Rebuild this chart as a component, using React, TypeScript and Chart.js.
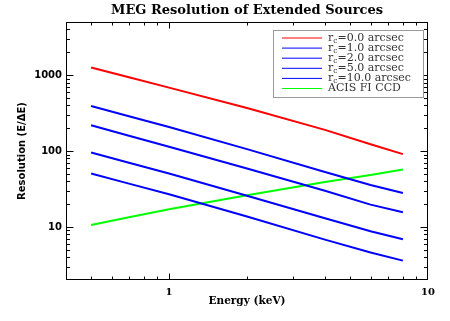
import React, { useEffect, useRef } from 'react';
import { Chart, registerables } from 'chart.js';

Chart.register(...registerables);

// ---- data ----
const energies = [0.5, 0.7, 1, 2, 4, 6, 8];
const rc0 = [1262, 936, 685, 369, 190, 123, 91];
const rc1 = [392, 287, 207, 106, 53, 35.7, 28];
const rc2 = [219, 159, 114, 58.9, 30, 19.7, 15.6];
const rc5 = [95.5, 70, 50.7, 25.8, 13.0, 8.8, 6.9];
const rc10 = [50.6, 37.2, 26.9, 13.7, 6.8, 4.6, 3.6];
const acisFi = [10.6, 13.4, 17.1, 26.1, 39, 48.4, 57];

const seriesValues = [rc0, rc1, rc2, rc5, rc10, acisFi];
const seriesLabels = [
  'r_c=0.0 arcsec',
  'r_c=1.0 arcsec',
  'r_c=2.0 arcsec',
  'r_c=5.0 arcsec',
  'r_c=10.0 arcsec',
  'ACIS FI CCD',
];
const seriesColors = ['#ff0000', '#0000ff', '#0000ff', '#0000ff', '#0000ff', '#00ff00'];

const xTickValues = [1, 10];
const yTickValues = [10, 100, 1000];
const xRange = [0.4, 10];
const yRange = [2, 5000];

const chartTitle = 'MEG Resolution of Extended Sources';
const xTitle = 'Energy (keV)';
const yTitle = 'Resolution (E/\u0394E)';

function logTickValues(min: number, max: number) {
  const out: { v: number; major: boolean }[] = [];
  const e0 = Math.floor(Math.log10(min));
  const e1 = Math.ceil(Math.log10(max));
  for (let e = e0; e <= e1; e++) {
    for (let m = 1; m <= 9; m++) {
      const v = m * Math.pow(10, e);
      if (v > min * 1.0001 && v < max * 0.9999) out.push({ v, major: m === 1 });
    }
  }
  return out;
}

const framePlugin = {
  id: 'frameTicks',
  afterDatasetsDraw(chart: any) {
    const { ctx, chartArea: a, scales } = chart;
    const L = Math.round(a.left) + 0.5;
    const R = Math.round(a.right) - 0.5;
    const T = Math.round(a.top) + 0.5;
    const B = Math.round(a.bottom) - 0.5;
    ctx.save();
    ctx.strokeStyle = '#000';
    ctx.lineWidth = 1;
    ctx.strokeRect(L, T, R - L, B - T);
    ctx.beginPath();
    for (const t of logTickValues(scales.x.min, scales.x.max)) {
      const px = Math.round(scales.x.getPixelForValue(t.v)) + 0.5;
      const len = t.major ? 6 : 3;
      ctx.moveTo(px, B);
      ctx.lineTo(px, B - len);
      ctx.moveTo(px, T);
      ctx.lineTo(px, T + len);
    }
    for (const t of logTickValues(scales.y.min, scales.y.max)) {
      const py = Math.round(scales.y.getPixelForValue(t.v)) + 0.5;
      const len = t.major ? 7 : 3.5;
      ctx.moveTo(L, py);
      ctx.lineTo(L + len, py);
      ctx.moveTo(R, py);
      ctx.lineTo(R - len, py);
    }
    ctx.stroke();
    ctx.restore();
  },
};

const legendPlugin = {
  id: 'customLegend',
  afterDraw(chart: any) {
    const { ctx } = chart;
    const bx = 273.5;
    const by = 30.5;
    const bw = 150;
    const bh = 67;
    ctx.save();
    ctx.fillStyle = '#fff';
    ctx.fillRect(bx, by, bw, bh);
    ctx.strokeStyle = '#9a9a9a';
    ctx.lineWidth = 1;
    ctx.strokeRect(bx, by, bw, bh);
    const fontMain = '11px "DejaVu Serif"';
    const fontSub = '7.5px "DejaVu Serif"';
    chart.data.datasets.forEach((ds: any, i: number) => {
      const y = 38 + i * 10.1;
      ctx.strokeStyle = ds.borderColor;
      ctx.lineWidth = 1;
      ctx.beginPath();
      ctx.moveTo(282, y);
      ctx.lineTo(322, y);
      ctx.stroke();
      ctx.fillStyle = '#333';
      ctx.textBaseline = 'middle';
      ctx.textAlign = 'left';
      const label: string = ds.label;
      let x = 328;
      const idx = label.indexOf('_');
      if (idx >= 0) {
        const pre = label.slice(0, idx);
        const sub = label.slice(idx + 1, idx + 2);
        const post = label.slice(idx + 2);
        ctx.font = fontMain;
        ctx.fillText(pre, x, y);
        x += ctx.measureText(pre).width;
        ctx.font = fontSub;
        ctx.fillText(sub, x, y + 3);
        x += ctx.measureText(sub).width;
        ctx.font = fontMain;
        ctx.fillText(post, x, y);
      } else {
        ctx.font = fontMain;
        ctx.fillText(label, x, y);
      }
    });
    ctx.restore();
  },
};

export default function App() {
  const ref = useRef<HTMLCanvasElement>(null);
  useEffect(() => {
    if (!ref.current) return;
    const chart = new Chart(ref.current, {
      type: 'line',
      data: {
        datasets: seriesValues.map((vals, i) => ({
          label: seriesLabels[i],
          data: energies.map((e, j) => ({ x: e, y: vals[j] })),
          borderColor: seriesColors[i],
          backgroundColor: seriesColors[i],
          borderWidth: 2,
          pointRadius: 0,
          tension: 0,
          fill: false,
        })),
      },
      options: {
        animation: false,
        responsive: false,
        devicePixelRatio: 1,
        layout: { padding: { left: 0, right: 22, top: 0, bottom: 0 } },
        plugins: {
          legend: { display: false },
          tooltip: { enabled: false },
          title: {
            display: true,
            text: chartTitle,
            fullSize: false,
            color: '#000',
            font: { family: '"DejaVu Serif"', size: 13, weight: 'bold' },
            padding: { top: 3, bottom: 3.5 },
          },
        },
        scales: {
          x: {
            type: 'logarithmic',
            min: xRange[0],
            max: xRange[1],
            afterFit: (s: any) => {
              s.height = 41;
            },
            afterBuildTicks: (s: any) => {
              s.ticks = xTickValues.map((v) => ({ value: v }));
            },
            grid: { display: false, drawTicks: false },
            border: { display: false },
            ticks: {
              autoSkip: false,
              maxRotation: 0,
              padding: 6,
              color: '#000',
              font: { family: '"DejaVu Serif"', size: 10, weight: 'bold' },
              callback: (v: any) => String(v),
            },
            title: {
              display: true,
              text: xTitle,
              color: '#000',
              font: { family: '"DejaVu Serif"', size: 10.5, weight: 'bold' },
              padding: { top: 0, bottom: 13 },
            },
          },
          y: {
            type: 'logarithmic',
            min: yRange[0],
            max: yRange[1],
            afterFit: (s: any) => {
              s.width = 66;
            },
            afterBuildTicks: (s: any) => {
              s.ticks = yTickValues.map((v) => ({ value: v }));
            },
            grid: { display: false, drawTicks: false },
            border: { display: false },
            ticks: {
              autoSkip: false,
              padding: 4,
              color: '#000',
              font: { family: '"DejaVu Sans"', size: 10, weight: 'bold' },
              callback: (v: any) => String(v),
            },
            title: {
              display: true,
              text: yTitle,
              color: '#000',
              font: { family: '"DejaVu Sans"', size: 10, weight: 'bold' },
              padding: { top: 16, bottom: 0 },
            },
          },
        },
      },
      plugins: [framePlugin, legendPlugin],
    } as any);
    return () => chart.destroy();
  }, []);
  return (
    <div style={{ position: 'absolute', left: 0, top: 0, width: 450, height: 321 }}>
      <canvas ref={ref} width={450} height={321} style={{ display: 'block' }} />
    </div>
  );
}
